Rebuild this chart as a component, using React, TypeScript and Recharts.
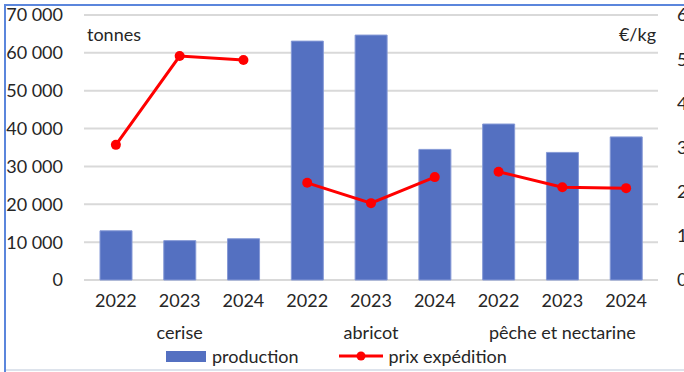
import { ComposedChart, Bar, Line, XAxis, YAxis, CartesianGrid } from 'recharts'

const years = ['2022', '2023', '2024', '2022', '2023', '2024', '2022', '2023', '2024']
const groups = ['cerise', 'cerise', 'cerise', 'abricot', 'abricot', 'abricot', 'pêche et nectarine', 'pêche et nectarine', 'pêche et nectarine']
const production = [13000, 10400, 10900, 63100, 64700, 34500, 41200, 33700, 37800]
const prixExpedition = [3.06, 5.07, 4.98, 2.2, 1.74, 2.33, 2.45, 2.1, 2.08]
const leftTicks = [0, 10000, 20000, 30000, 40000, 50000, 60000, 70000]
const rightTicks = [0, 1, 2, 3, 4, 5, 6]

const FONT = 'Lato, "Open Sans", sans-serif'
const TEXT = '#262626'
const BLUE = '#5470c1'
const RED = '#ff0000'
const FS = 18

// one price series per product so the line breaks between groups
const data = years.map((y, i) => ({
  year: y,
  group: groups[i],
  production: production[i],
  prixCerise: groups[i] === 'cerise' ? prixExpedition[i] : null,
  prixAbricot: groups[i] === 'abricot' ? prixExpedition[i] : null,
  prixPeche: groups[i] === 'pêche et nectarine' ? prixExpedition[i] : null,
}))

const fmtThousands = (v: number) => (v === 0 ? '0' : `${Math.floor(v / 1000)} ${String(v % 1000).padStart(3, '0')}`)

function GroupTick(props: any) {
  const { x, y, payload, index } = props
  if (index % 3 !== 1) return null
  return (
    <text x={x} y={y + 2} dy="0.71em" textAnchor="middle" fill={TEXT} fontSize={FS} fontFamily={FONT}>
      {payload.value}
    </text>
  )
}

export default function App() {
  return (
    <div style={{ position: 'fixed', left: 0, top: 0, width: 684, height: 372, overflow: 'hidden', background: '#fff' }}>
      <ComposedChart width={720} height={372} data={data} margin={{ top: 15, right: 0, bottom: 22, left: 0 }}>
        <CartesianGrid vertical={false} yAxisId="left" xAxisId="a_year" stroke="#d9d9d9" strokeWidth={2} />
        <XAxis xAxisId="a_year" dataKey="year" axisLine={false} tickLine={false} height={36} tickMargin={8}
          tick={{ fill: TEXT, fontSize: FS, fontFamily: FONT }} interval={0} />
        <XAxis xAxisId="b_grp" dataKey="group" axisLine={false} tickLine={false} height={34} interval={0}
          tick={<GroupTick />} />
        <YAxis yAxisId="left" domain={[0, 70000]} ticks={leftTicks} axisLine={false} tickLine={false} width={84}
          tickMargin={15} tickFormatter={fmtThousands} tick={{ fill: TEXT, fontSize: FS, fontFamily: FONT }} />
        <YAxis yAxisId="right" orientation="right" domain={[0, 6]} ticks={rightTicks} axisLine={false} tickLine={false}
          width={62} tickMargin={13} tick={{ fill: TEXT, fontSize: FS, fontFamily: FONT }} />
        <Bar xAxisId="a_year" yAxisId="left" dataKey="production" fill={BLUE} stroke="#8599d6" strokeWidth={1}
          barSize={32} isAnimationActive={false} />
        {['prixCerise', 'prixAbricot', 'prixPeche'].map((k) => (
          <Line key={k} xAxisId="a_year" yAxisId="right" dataKey={k} stroke={RED} strokeWidth={3}
            dot={{ r: 5, fill: RED, stroke: RED, strokeWidth: 0 }} connectNulls={false} isAnimationActive={false} />
        ))}
      </ComposedChart>

      {/* unit labels */}
      <div style={{ position: 'absolute', left: 87, top: 23, fontFamily: FONT, fontSize: FS, color: TEXT }}>tonnes</div>
      <div style={{ position: 'absolute', right: 684 - 656, top: 23, fontFamily: FONT, fontSize: FS, color: TEXT }}>€/kg</div>

      {/* legend */}
      <div style={{ position: 'absolute', left: 166, top: 344, display: 'flex', alignItems: 'center', fontFamily: FONT, fontSize: FS, color: TEXT }}>
        <svg width={40} height={24} style={{ marginRight: 6 }}>
          <rect x={0} y={7} width={40} height={11} fill={BLUE} />
        </svg>
        <span>production</span>
        <svg width={46} height={24} style={{ marginLeft: 40, marginRight: 4 }}>
          <line x1={0} y1={12} x2={44} y2={12} stroke={RED} strokeWidth={3} />
          <circle cx={22} cy={12} r={4.5} fill={RED} />
        </svg>
        <span>prix expédition</span>
      </div>

      {/* frame */}
      <div style={{ position: 'absolute', left: 4, top: 4, width: 680, height: 2, background: '#5b86dc' }} />
      <div style={{ position: 'absolute', left: 4, top: 4, width: 2, height: 368, background: '#5b86dc' }} />
      <div style={{ position: 'absolute', left: 6, top: 369, width: 678, height: 2, background: '#dde3ec' }} />
    </div>
  )
}
